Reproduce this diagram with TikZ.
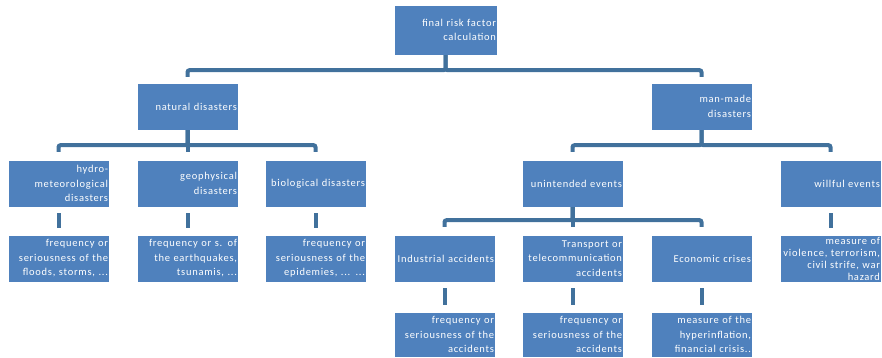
\documentclass[tikz,border=0pt]{standalone}
\usepackage{fontspec}
\setmainfont{Carlito}
\newfontfamily\boxfont[LetterSpace=7]{Carlito}
\definecolor{boxblue}{HTML}{4F81BD}
\definecolor{linkblue}{HTML}{41719C}
\tikzset{
  box/.style={draw=white, line width=0.4pt, fill=boxblue, text=white,
    minimum width=101pt, minimum height=47pt, inner sep=1pt, text width=99pt,
    align=right, font=\boxfont\fontsize{10.5}{14.5}\selectfont},
  link/.style={draw=linkblue, line width=4pt, rounded corners=2pt}
}
\begin{document}
\begin{tikzpicture}[x=1pt,y=-1pt]
  \useasboundingbox (0,0) rectangle (882,357);
  % top
  \node[box, minimum width=103pt, minimum height=50pt, text width=101pt] (root) at (445.5,30) {final risk factor\\calculation};
  \node[box] (nat) at (187.5,106.5) {natural disasters};
  \node[box] (man) at (701.5,106.5) {man-made\\disasters};
  % third row
  \node[box] (hydro) at (58.5,183.5) {hydro-\\meteorological\\disasters};
  \node[box] (geo) at (187.5,183.5) {geophysical\\disasters};
  \node[box] (bio) at (315.5,183.5) {biological disasters};
  \node[box] (unint) at (572.5,183.5) {unintended events};
  \node[box] (will) at (830.5,183.5) {willful events};
  % fourth row
  \node[box] (hydrof) at (58.5,258.5) {frequency or\\seriousness of the\\floods, storms, ...};
  \node[box] (geof) at (187.5,258.5) {frequency or s. of\\the earthquakes,\\tsunamis, ...};
  \node[box] (biof) at (315.5,258.5) {frequency or\\seriousness of the\\epidemies, ... ...};
  \node[box] (ind) at (444.5,258.5) {Industrial accidents};
  \node[box] (trans) at (572.5,258.5) {Transport or\\telecommunication\\accidents};
  \node[box] (econ) at (701.5,258.5) {Economic crises};
  \node[box, font=\boxfont\fontsize{10.5}{12}\selectfont] (willm) at (830.5,258.5) {measure of\\violence, terrorism,\\civil strife, war\\hazard};
  % bottom row
  \node[box, minimum height=45pt] (indf) at (444.5,334.5) {frequency or\\seriousness of the\\accidents};
  \node[box, minimum height=45pt] (transf) at (572.5,334.5) {frequency or\\seriousness of the\\accidents};
  \node[box, minimum height=45pt] (econf) at (701.5,334.5) {measure of the\\hyperinflation,\\financial crisis..};
  % brackets
  \draw[link] (root.south) -- ++(0,15) -| ([yshift=6pt]nat.north);
  \draw[link] (root.south) -- ++(0,15) -| ([yshift=6pt]man.north);
  \foreach \c in {hydro,geo,bio}
    \draw[link] (nat.south) -- ++(0,15) -| ([yshift=8pt]\c.north);
  \foreach \c in {unint,will}
    \draw[link] (man.south) -- ++(0,15) -| ([yshift=8pt]\c.north);
  \foreach \c in {ind,trans,econ}
    \draw[link] (unint.south) -- ++(0,13) -| ([yshift=8pt]\c.north);
  % short links
  \foreach \a/\b in {hydro/hydrof,geo/geof,bio/biof,will/willm,ind/indf,trans/transf,econ/econf}
    \draw[link] ([yshift=-6pt]\a.south) -- ([yshift=7pt]\b.north);
\end{tikzpicture}
\end{document}
